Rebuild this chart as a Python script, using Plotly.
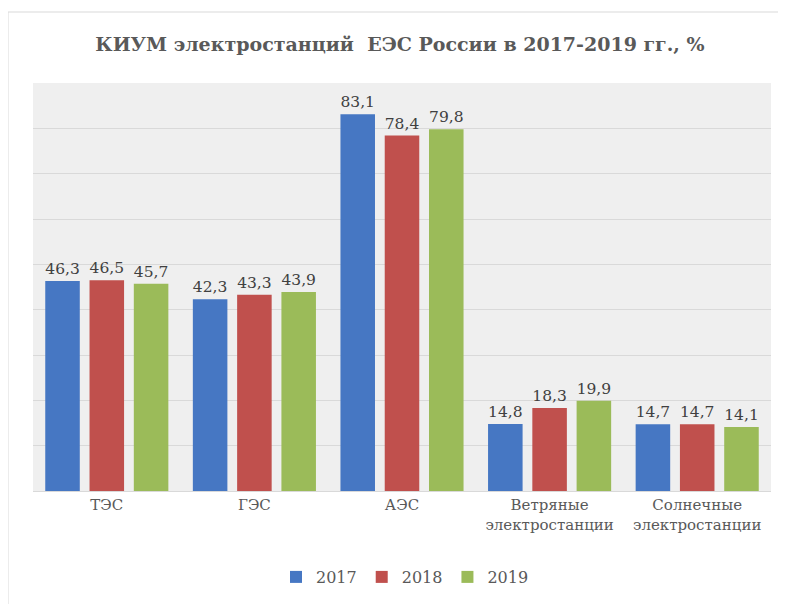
import plotly.graph_objects as go

categories = ["ТЭС", "ГЭС", "АЭС", "Ветряные<br>электростанции", "Солнечные<br>электростанции"]
years = ["2017", "2018", "2019"]
v2017 = [46.3, 42.3, 83.1, 14.8, 14.7]
v2018 = [46.5, 43.3, 78.4, 18.3, 14.7]
v2019 = [45.7, 43.9, 79.8, 19.9, 14.1]
series = [v2017, v2018, v2019]
colors = ["#4677C3", "#C0504D", "#9BBB59"]

FONT = "DejaVu Serif"

fig = go.Figure()
for name, vals, col in zip(years, series, colors):
    fig.add_trace(go.Bar(
        x=categories, y=vals, name=name,
        marker=dict(color=col, line=dict(width=0)),
        text=vals, texttemplate="%{y:.1f}", textposition="outside",
        textfont=dict(family=FONT, size=16, color="#404040"),
        cliponaxis=False,
    ))

OFF = 8  # page body margin
W, H = 786 - OFF, 604 - OFF
# plot area in page pixels: x 33..771, y 83..491
L = 33 - OFF
T = 83 - OFF
pw = 771 - 33
ph = 491 - 83
R = W - L - pw
B = H - T - ph

def px_x(px):
    return (px - OFF - L) / pw

def px_y(py):
    return (T + ph - (py - OFF)) / ph

fig.update_layout(
    width=W, height=H,
    margin=dict(l=L, r=R, t=T, b=B, autoexpand=False),
    paper_bgcolor="white",
    plot_bgcolor="#efefef",
    separators=", ",
    barmode="group",
    bargap=0.1,
    bargroupgap=0.22,
    font=dict(family=FONT, color="#595959"),
    title=dict(text="КИУМ электростанций  ЕЭС России в 2017-2019 гг., %",
               x=(400 - OFF) / W, xanchor="center", y=1 - (44 - OFF) / H, yanchor="middle",
               font=dict(family=FONT, size=19, color="#595959", weight="bold")),
    xaxis=dict(showgrid=False, showline=True, linecolor="#d9d9d9", linewidth=1,
               ticks="", tickfont=dict(family=FONT, size=15, color="#595959")),
    yaxis=dict(range=[0, 90], dtick=10, showgrid=True, gridcolor="#d9d9d9",
               gridwidth=1, showticklabels=False, zeroline=False, ticks=""),
    showlegend=True,
    legend=dict(orientation="h", x=px_x(405), xanchor="center", y=px_y(577), yanchor="middle",
                font=dict(family=FONT, size=16, color="#595959"),
                itemwidth=30, traceorder="normal"),
    shapes=[dict(type="rect", xref="paper", yref="paper",
                 x0=px_x(8), x1=px_x(800), y0=px_y(640), y1=px_y(12),
                 line=dict(color="#d9d9d9", width=1), fillcolor="rgba(0,0,0,0)",
                 layer="below")],
)

fig.write_html("out.html")
